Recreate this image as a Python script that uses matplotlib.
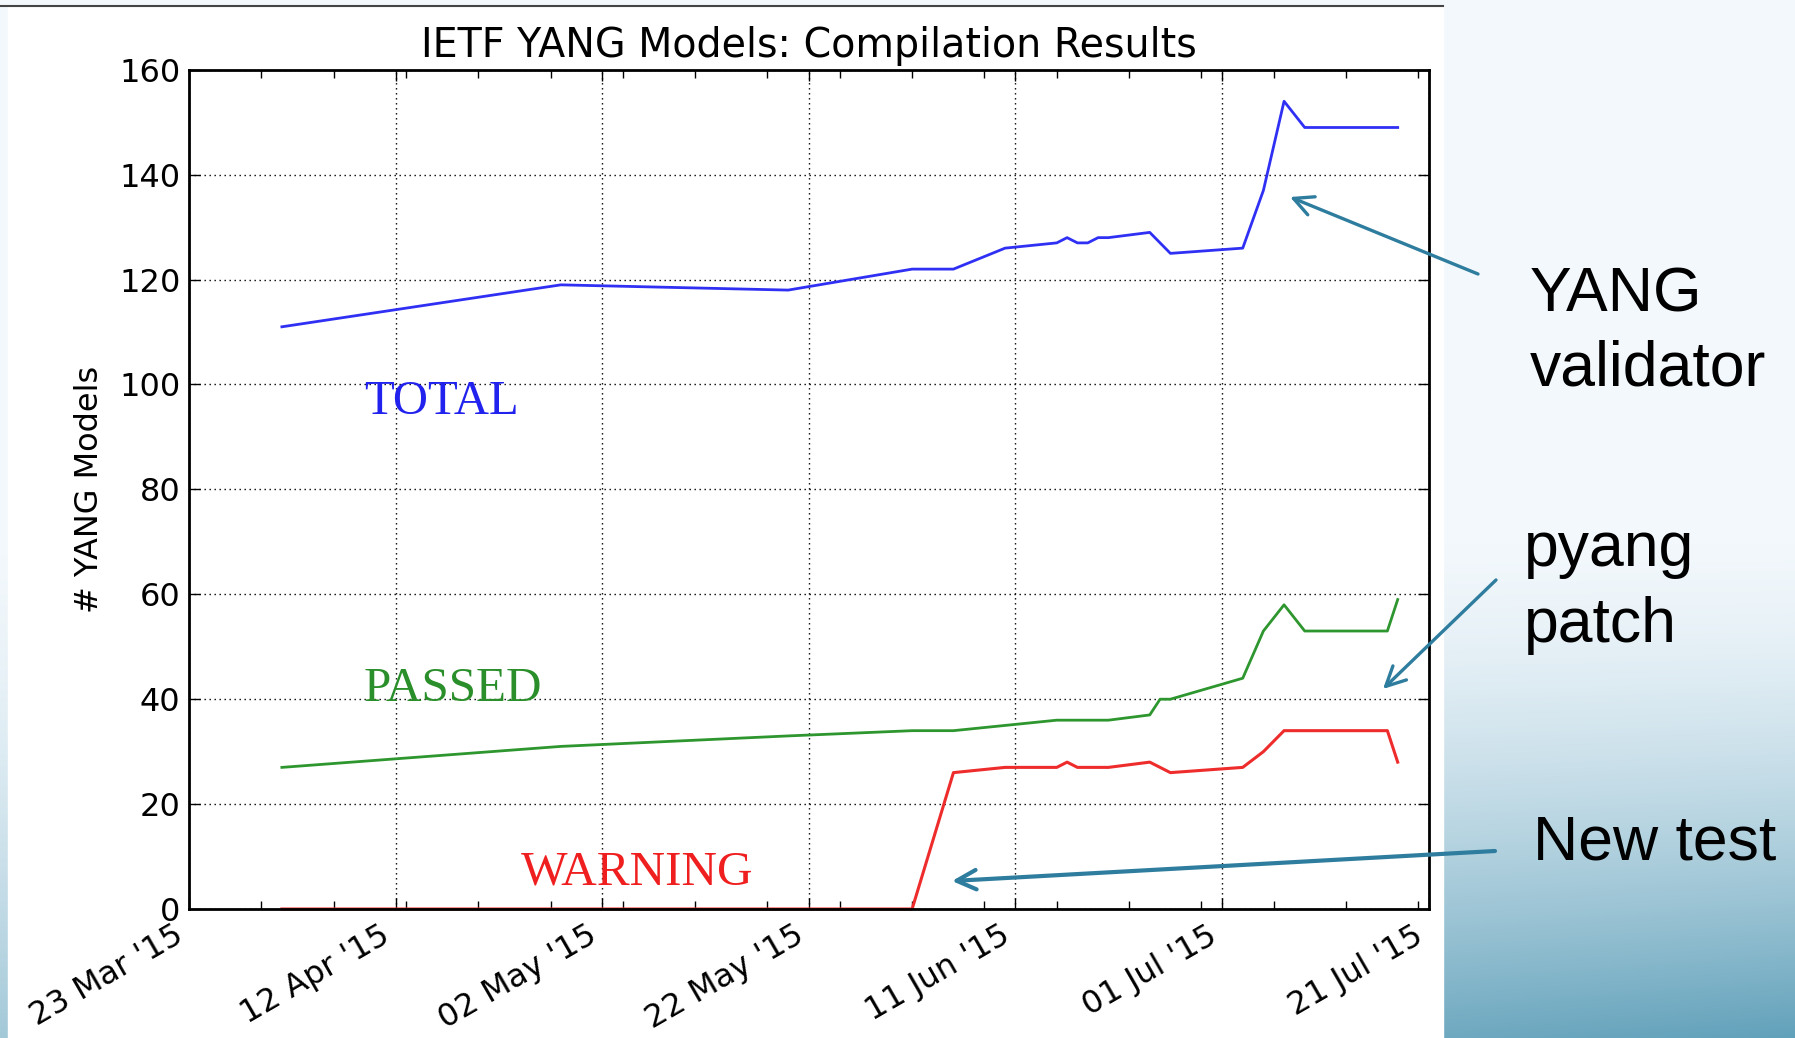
import numpy as np
import pandas as pd
import matplotlib
matplotlib.use('Agg')
import matplotlib.pyplot as plt
import matplotlib.dates as mdates
from matplotlib.patches import Rectangle, FancyArrowPatch

# daily compilation snapshots
dates = ['2015-04-01', '2015-04-28', '2015-05-20', '2015-06-01', '2015-06-05',
         '2015-06-10', '2015-06-15', '2015-06-16', '2015-06-17', '2015-06-18',
         '2015-06-19', '2015-06-20', '2015-06-24', '2015-06-25', '2015-06-26',
         '2015-07-03', '2015-07-05', '2015-07-07', '2015-07-09', '2015-07-17',
         '2015-07-18']
total = [111, 119, 118, 122, 122, 126, 127, 128, 127, 127, 128,
         128, 129, 127, 125, 126, 137, 154, 149, 149, 149]
passed = [27, 31, 33, 34, 34, 35, 36, 36, 36, 36, 36,
          36, 37, 40, 40, 44, 53, 58, 53, 53, 59]
warning = [0, 0, 0, 0, 26, 27, 27, 28, 27, 27, 27,
           27, 28, 27, 26, 27, 30, 34, 34, 34, 28]

x_start = '2015-03-23'
x_end = '2015-07-21'
y_ticks = [0, 20, 40, 60, 80, 100, 120, 140, 160]

W, H = 1795, 1038
fig = plt.figure(figsize=(W / 100, H / 100), dpi=100)

# slide background
bg = fig.add_axes([0, 0, 1, 1])
bg.set_xlim(0, W)
bg.set_ylim(H, 0)
bg.axis('off')
yy, xx = np.mgrid[0:H, 0:W]
t = np.clip((yy - 520) / (H - 520), 0, 1) ** 1.6
s = t * (0.55 + 0.45 * xx / W)
pale = np.array([0.955, 0.975, 0.99])
dark = np.array([0.38, 0.63, 0.73])
img = pale[None, None, :] * (1 - s[..., None]) + dark[None, None, :] * s[..., None]
bg.imshow(img, extent=[0, W, H, 0], aspect='auto', zorder=0)
bg.add_patch(Rectangle((8, 6), 1443 - 8, H - 6, color='white', zorder=1))
bg.plot([0, 1443], [6, 6], color='#444444', lw=1.5, zorder=2)

# chart
ax = fig.add_axes([188.9 / W, 1 - 909 / H, (1428.7 - 188.9) / W, (909 - 69.8) / H])
d = pd.to_datetime(dates)
ax.plot(d, total, color='#3030f5', lw=2)
ax.plot(d, passed, color='#2e962e', lw=2)
ax.plot(d, warning, color='#ee2c2c', lw=2.2, clip_on=False)

ax.set_xlim(pd.Timestamp(x_start), pd.Timestamp(x_end))
ax.set_ylim(0, 160)
ax.set_yticks(y_ticks)
ax.xaxis.set_major_locator(matplotlib.ticker.FixedLocator(
    mdates.date2num(pd.date_range(x_start, x_end, freq='20D'))))
ax.xaxis.set_minor_locator(mdates.WeekdayLocator(byweekday=mdates.MO))
ax.xaxis.set_major_formatter(mdates.DateFormatter("%d %b '%y"))

ax.tick_params(which='both', direction='in', top=True, right=True, width=1)
ax.tick_params(which='major', length=8, labelsize=23)
ax.tick_params(which='minor', length=6)
ax.tick_params(axis='y', pad=6)
ax.tick_params(axis='x', pad=8)
for lab in ax.get_xticklabels():
    lab.set_rotation(30)
    lab.set_ha('right')

ax.grid(True, which='major', color='k', linestyle=(0, (1, 2.6)), lw=1)
for sp in ax.spines.values():
    sp.set_linewidth(2)

ax.set_title('IETF YANG Models: Compilation Results', fontsize=28.5, pad=9)
ax.set_ylabel('# YANG Models', fontsize=23, labelpad=10)

ax.text(0.141, 0.59, 'TOTAL', transform=ax.transAxes, color='#2222ee',
        family='Liberation Serif', fontsize=35, va='baseline')
ax.text(0.141, 0.248, 'PASSED', transform=ax.transAxes, color='#2a8f2a',
        family='Liberation Serif', fontsize=35.5, va='baseline')
ax.text(0.268, 0.0286, 'WARNING', transform=ax.transAxes, color='#f01f1f',
        family='Liberation Serif', fontsize=35.5, va='baseline')

# slide annotations
def fp(x, y):
    return (x / W, 1 - y / H)

for txt, x, y in [('YANG', 1530, 311), ('validator', 1530, 386),
                  ('pyang', 1524, 566), ('patch', 1524, 642),
                  ('New test', 1533, 860)]:
    fig.text(*fp(x, y), txt, family='Liberation Sans', fontsize=45,
             va='baseline', ha='left')

arrow_col = '#2e7d9e'
for tail, tip, lw in [((1478, 274), (1290, 197), 2.4),
                      ((1496, 580), (1383, 689), 2.4),
                      ((1495, 851), (952, 881), 3.0)]:
    fig.add_artist(FancyArrowPatch(
        fp(*tail), fp(*tip), transform=fig.transFigure,
        arrowstyle='->,head_length=0.7,head_width=0.35', mutation_scale=20,
        color=arrow_col, lw=lw, shrinkA=0, shrinkB=0))

fig.savefig('out.png', dpi=100)
